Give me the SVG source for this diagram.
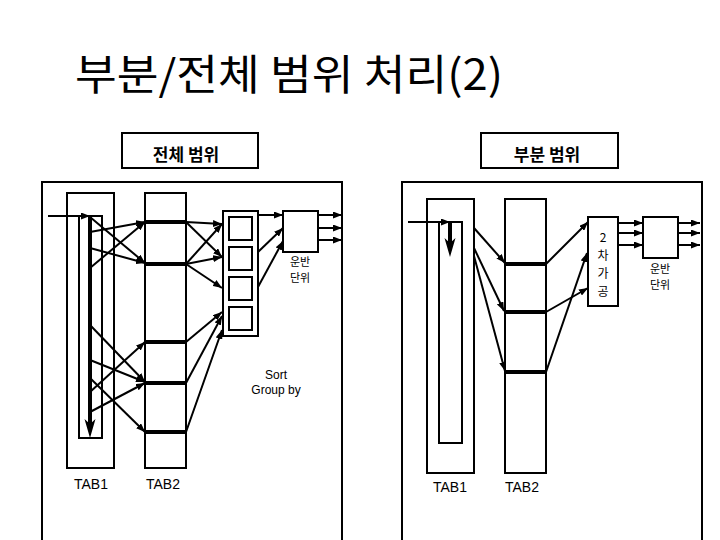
<svg xmlns="http://www.w3.org/2000/svg" width="720" height="540" viewBox="0 0 720 540">
<style>
.box{fill:none;stroke:#000;stroke-width:2}
.bar{stroke:#000;stroke-width:4}
.ln{stroke:#000;stroke-width:2;fill:none;marker-end:url(#ah)}
.thick{stroke:#000;stroke-width:4;fill:none}
.head{fill:#000;stroke:none}
.t{font-family:"Liberation Sans","Noto Sans CJK KR",sans-serif;fill:#000}
.k{font-family:"Noto Sans CJK KR","Liberation Sans",sans-serif;fill:#000}
</style>
<defs>
<marker id="ah" markerUnits="userSpaceOnUse" markerWidth="9" markerHeight="7" refX="9" refY="3.5" orient="auto">
<path d="M0,0 L9,3.5 L0,7 z" fill="#000"/>
</marker>
</defs>
<rect width="720" height="540" fill="#fff"/>

<text id="title" class="k" x="75" y="90" font-size="42" textLength="428" lengthAdjust="spacingAndGlyphs">부분/전체 범위 처리(2)</text>

<g id="hdr-full">
<rect class="box" x="122" y="133" width="136" height="35"/>
<text class="k" x="186" y="161" font-size="17" font-weight="bold" text-anchor="middle">전체 범위</text>
</g>
<g id="hdr-part">
<rect class="box" x="481" y="133" width="137" height="35"/>
<text class="k" x="547" y="161" font-size="17" font-weight="bold" text-anchor="middle">부분 범위</text>
</g>

<g id="frame-left"><rect class="box" x="42" y="182" width="300" height="370"/></g>
<g id="frame-right"><rect class="box" x="402" y="182" width="300" height="370"/></g>

<!-- Left panel -->
<g id="L-tab1">
<rect class="box" x="67" y="193" width="47" height="275"/>
<rect class="box" x="79" y="216" width="23" height="222"/>
<text class="t" x="91" y="489" font-size="14" text-anchor="middle">TAB1</text>
</g>
<g id="L-tab2">
<rect class="box" x="145" y="193" width="41" height="275"/>
<line class="bar" x1="145" y1="222" x2="186" y2="222"/>
<line class="bar" x1="145" y1="264" x2="186" y2="264"/>
<line class="bar" x1="145" y1="342" x2="186" y2="342"/>
<line class="bar" x1="145" y1="383" x2="186" y2="383"/>
<line class="bar" x1="145" y1="432" x2="186" y2="432"/>
<text class="t" x="163" y="489" font-size="14" text-anchor="middle">TAB2</text>
</g>
<g id="L-sort">
<rect class="box" x="223" y="211" width="35" height="125"/>
<rect class="box" x="229" y="217" width="23" height="23"/>
<rect class="box" x="229" y="247" width="23" height="23"/>
<rect class="box" x="229" y="277" width="23" height="23"/>
<rect class="box" x="229" y="307" width="23" height="23"/>
<text class="t" x="276" y="379" font-size="12" text-anchor="middle">Sort</text>
<text class="t" x="276" y="394" font-size="12" text-anchor="middle">Group by</text>
</g>
<g id="L-unit">
<rect class="box" x="283" y="211" width="35" height="41"/>
<text class="k" x="300" y="266" font-size="11" text-anchor="middle">운반</text>
<text class="k" x="300" y="282" font-size="11" text-anchor="middle">단위</text>
</g>

<!-- Right panel -->
<g id="R-tab1">
<rect class="box" x="427" y="199" width="47" height="274"/>
<rect class="box" x="439" y="222" width="23" height="221"/>
<text class="t" x="450" y="492" font-size="14" text-anchor="middle">TAB1</text>
</g>
<g id="R-tab2">
<rect class="box" x="505" y="199" width="41" height="274"/>
<line class="bar" x1="505" y1="264" x2="546" y2="264"/>
<line class="bar" x1="505" y1="312" x2="546" y2="312"/>
<line class="bar" x1="505" y1="372" x2="546" y2="372"/>
<text class="t" x="522" y="492" font-size="14" text-anchor="middle">TAB2</text>
</g>
<g id="R-second">
<rect class="box" x="588" y="217" width="30" height="89"/>
<text class="k" x="603" y="242" font-size="12" text-anchor="middle">2</text>
<text class="k" x="603" y="260" font-size="12" text-anchor="middle">차</text>
<text class="k" x="603" y="278" font-size="12" text-anchor="middle">가</text>
<text class="k" x="603" y="296" font-size="12" text-anchor="middle">공</text>
</g>
<g id="R-unit">
<rect class="box" x="643" y="217" width="35" height="41"/>
<text class="k" x="660" y="273" font-size="11" text-anchor="middle">운반</text>
<text class="k" x="660" y="289" font-size="11" text-anchor="middle">단위</text>
</g>

<g id="connectors">
<!-- left: entry and scan -->
<line class="ln" x1="48" y1="216" x2="90" y2="216"/>
<line class="thick" x1="90" y1="216" x2="90" y2="424"/>
<polygon class="head" points="84.5,419 90,438 95.5,419 90,424"/>
<!-- left: TAB1 -> TAB2 -->
<line class="ln" x1="90" y1="217" x2="145" y2="263"/>
<line class="ln" x1="90" y1="232" x2="145" y2="222"/>
<line class="ln" x1="90" y1="248" x2="145" y2="263"/>
<line class="ln" x1="90" y1="268" x2="145" y2="222"/>
<line class="ln" x1="90" y1="325" x2="145" y2="382"/>
<line class="ln" x1="90" y1="360" x2="145" y2="382"/>
<line class="ln" x1="90" y1="378" x2="145" y2="432"/>
<line class="ln" x1="90" y1="392" x2="145" y2="342"/>
<line class="ln" x1="90" y1="412" x2="145" y2="383"/>
<!-- left: TAB2 -> sort -->
<line class="ln" x1="186" y1="222" x2="222" y2="224"/>
<line class="ln" x1="186" y1="222" x2="222" y2="257"/>
<line class="ln" x1="186" y1="264" x2="222" y2="224"/>
<line class="ln" x1="186" y1="264" x2="222" y2="257"/>
<line class="ln" x1="186" y1="264" x2="222" y2="288"/>
<line class="ln" x1="186" y1="342" x2="222" y2="312"/>
<line class="ln" x1="186" y1="383" x2="222" y2="316"/>
<line class="ln" x1="186" y1="432" x2="222" y2="330"/>
<!-- left: sort -> unit -->
<line class="ln" x1="258" y1="215" x2="283" y2="215"/>
<line class="ln" x1="258" y1="252" x2="283" y2="228"/>
<line class="ln" x1="258" y1="287" x2="283" y2="241"/>
<line class="ln" x1="318" y1="215" x2="342" y2="215"/>
<line class="ln" x1="318" y1="228" x2="342" y2="228"/>
<line class="ln" x1="318" y1="240" x2="342" y2="240"/>
<!-- right: entry and scan -->
<line class="ln" x1="408" y1="222" x2="450" y2="222"/>
<line class="thick" x1="450" y1="222" x2="450" y2="243"/>
<polygon class="head" points="444.5,238 450,257 455.5,238 450,243"/>
<!-- right: TAB1 -> TAB2 -->
<line class="ln" x1="474" y1="228" x2="505" y2="263"/>
<line class="ln" x1="474" y1="248" x2="504" y2="311"/>
<line class="ln" x1="474" y1="256" x2="505" y2="371"/>
<!-- right: TAB2 -> 2차가공 -->
<line class="ln" x1="546" y1="264" x2="588" y2="222"/>
<line class="ln" x1="546" y1="312" x2="588" y2="288"/>
<line class="ln" x1="546" y1="372" x2="587" y2="253"/>
<!-- right: 2차가공 -> unit -->
<line class="ln" x1="618" y1="223" x2="643" y2="223"/>
<line class="ln" x1="618" y1="233" x2="643" y2="233"/>
<line class="ln" x1="618" y1="245" x2="643" y2="245"/>
<line class="ln" x1="678" y1="223" x2="700" y2="223"/>
<line class="ln" x1="678" y1="233" x2="700" y2="233"/>
<line class="ln" x1="678" y1="245" x2="700" y2="245"/>
</g>
</svg>
